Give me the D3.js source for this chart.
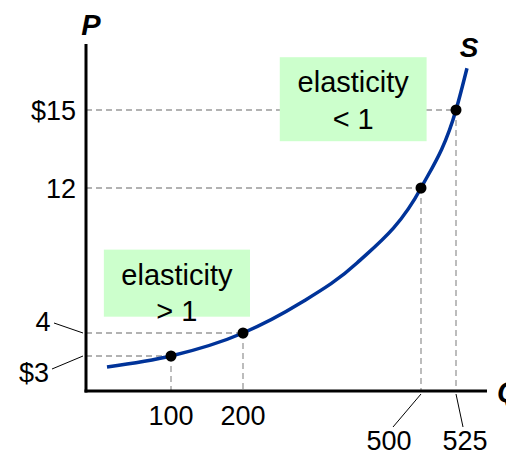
<!DOCTYPE html>
<html><head><meta charset="utf-8">
<script src="https://cdn.jsdelivr.net/npm/d3@7"></script>
<style>html,body{margin:0;padding:0;background:#fff;}svg{display:block;font-family:"Liberation Sans",Arial,sans-serif;}</style>
</head><body>
<svg id="c" width="506" height="454"></svg>
<script>
// Data
const priceTicks = [3, 4, 12, 15];
const priceLabels = ["$3", "4", "12", "$15"];
const qtyTicks = [100, 200, 500, 525];
const qtyLabels = ["100", "200", "500", "525"];
const points = [[100, 3], [200, 4], [500, 12], [525, 15]];
const curveQ = [24.7, 100, 200, 296.1, 392.1, 500, 525, 532.8];
const curveP = [2.06, 3, 4, 5.64, 7.86, 12, 15, 15.95];
const boxes = [
  {q0: 21, q1: 211.8, p0: 4.9, p1: 8.6, lines: ["elasticity", "> 1"]},
  {q0: 262, q1: 504, p0: 13.8, p1: 16.2, lines: ["elasticity", "< 1"]}
];

const svg = d3.select("#c");
// Illustrative (non-uniform) axes: piecewise-linear scales
const x = d3.scaleLinear().domain([0, 100, 200, 500, 525, 547]).range([86, 171, 243, 421, 456, 487]);
const y = d3.scaleLinear().domain([0, 3, 4, 12, 15, 16.5]).range([391, 356, 333, 188, 110, 44]);

// dashed guides
const g = svg.append("g").attr("stroke", "#999").attr("stroke-width", 1.3).attr("stroke-dasharray", "6,4").attr("fill", "none");
points.forEach(([q, p]) => {
  g.append("line").attr("x1", x(0)).attr("x2", x(q)).attr("y1", y(p)).attr("y2", y(p));
  g.append("line").attr("x1", x(q)).attr("x2", x(q)).attr("y1", y(p)).attr("y2", y(0));
});
// green boxes with text
boxes.forEach(b => {
  svg.append("rect").attr("x", x(b.q0)).attr("y", y(b.p1))
    .attr("width", x(b.q1) - x(b.q0)).attr("height", y(b.p0) - y(b.p1))
    .attr("fill", "#ccffcc");
  const cx = (x(b.q0) + x(b.q1)) / 2;
  b.lines.forEach((t, i) => {
    svg.append("text").attr("x", cx).attr("y", y(b.p1) + 35 + i * 36.5)
      .attr("text-anchor", "middle").attr("font-size", 29).attr("fill", "#000").text(t);
  });
});

// axes
svg.append("line").attr("x1", x(0)).attr("x2", x(0)).attr("y1", y(16.5)).attr("y2", y(0) + 1.5)
  .attr("stroke", "#000").attr("stroke-width", 3);
svg.append("line").attr("x1", x(0) - 1.5).attr("x2", x(547)).attr("y1", y(0)).attr("y2", y(0))
  .attr("stroke", "#000").attr("stroke-width", 3);

// curve
const line = d3.line().x(d => x(d[0])).y(d => y(d[1])).curve(d3.curveMonotoneX);
svg.append("path").datum(curveQ.map((q, i) => [q, curveP[i]]))
  .attr("d", line).attr("fill", "none").attr("stroke", "#003399").attr("stroke-width", 3.5);

// points
svg.selectAll("circle.pt").data(points).join("circle")
  .attr("cx", d => x(d[0])).attr("cy", d => y(d[1])).attr("r", 5.5).attr("fill", "#000");

// price tick labels (with leaders for crowded ones)
const pLab = [
  {dx: -52, dy: 26, anchor: "middle", leader: [52, 369]},
  {dx: -43, dy: -2, anchor: "middle", leader: [54, 323]},
  {dx: -10, dy: 10, anchor: "end", leader: null},
  {dx: -10, dy: 10, anchor: "end", leader: null}
];
priceTicks.forEach((p, i) => {
  const o = pLab[i];
  svg.append("text").attr("x", x(0) + o.dx).attr("y", y(p) + o.dy).attr("text-anchor", o.anchor)
    .attr("font-size", 27).text(priceLabels[i]);
  if (o.leader) svg.append("line").attr("x1", o.leader[0]).attr("y1", o.leader[1])
    .attr("x2", x(0) - 3).attr("y2", y(p)).attr("stroke", "#000").attr("stroke-width", 1);
});

// quantity tick labels
const qLab = [
  {dx: 0, y: 425, leader: false},
  {dx: 0, y: 425, leader: false},
  {dx: -32, y: 450, leader: true},
  {dx: 9, y: 450, leader: true}
];
qtyTicks.forEach((q, i) => {
  const o = qLab[i];
  svg.append("text").attr("x", x(q) + o.dx).attr("y", o.y).attr("text-anchor", "middle")
    .attr("font-size", 27).text(qtyLabels[i]);
  if (o.leader) svg.append("line").attr("x1", x(q)).attr("y1", y(0) + 3)
    .attr("x2", x(q) + o.dx + (o.dx < 0 ? 4 : -2)).attr("y2", 427).attr("stroke", "#000").attr("stroke-width", 1);
});

// axis titles
svg.append("text").attr("x", 91).attr("y", 35).attr("text-anchor", "middle")
  .attr("font-size", 29).attr("font-weight", "bold").attr("font-style", "italic").text("P");
svg.append("text").attr("x", 497).attr("y", 402).attr("text-anchor", "start")
  .attr("font-size", 29).attr("font-weight", "bold").attr("font-style", "italic").text("Q");
svg.append("text").attr("x", 469).attr("y", 57).attr("text-anchor", "middle")
  .attr("font-size", 28).attr("font-weight", "bold").attr("font-style", "italic").text("S");
</script>
</body></html>
